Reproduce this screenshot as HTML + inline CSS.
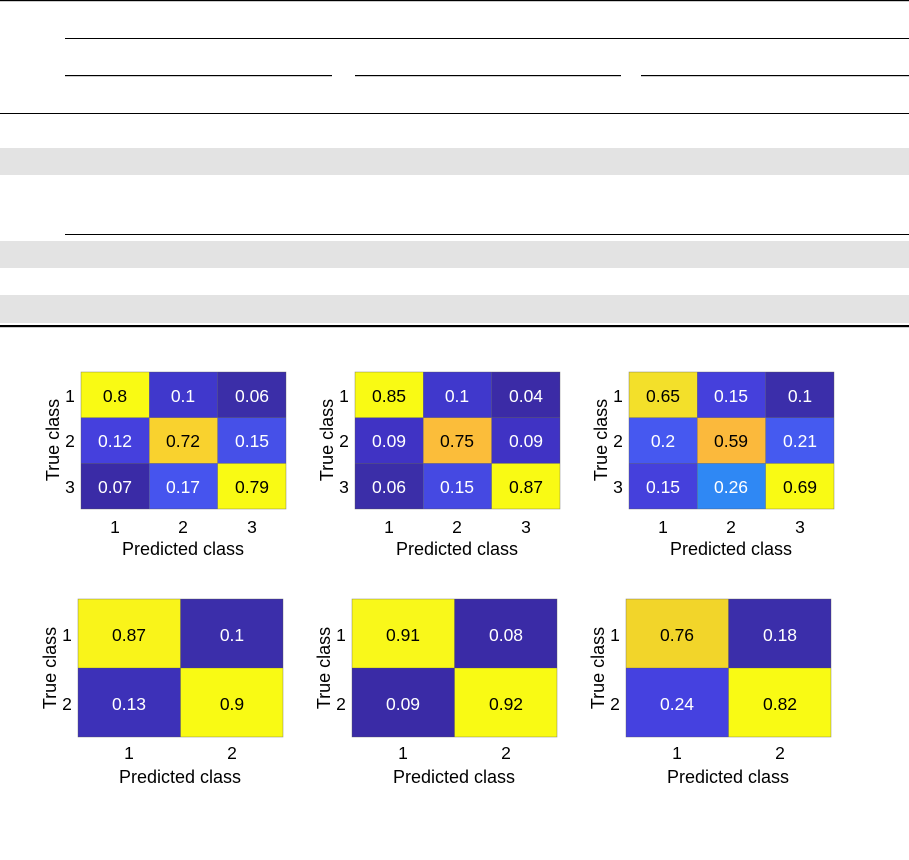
<!DOCTYPE html>
<html><head><meta charset="utf-8"><style>
body{margin:0;background:#fff;}
svg text{font-family:"Liberation Sans",Arial,sans-serif;}
</style></head><body>
<svg width="909" height="855" viewBox="0 0 909 855" xmlns="http://www.w3.org/2000/svg">
<rect width="909" height="855" fill="#fff"/>
<rect x="0" y="0" width="909" height="1.2" fill="#000"/>
<rect x="65" y="38" width="844" height="1" fill="#000"/>
<rect x="65" y="75" width="267" height="1.2" fill="#000"/>
<rect x="355" y="75" width="266" height="1.2" fill="#000"/>
<rect x="641" y="75" width="268" height="1.2" fill="#000"/>
<rect x="0" y="113" width="909" height="1" fill="#000"/>
<rect x="0" y="148" width="909" height="27" fill="#e3e3e3"/>
<rect x="65" y="234" width="844" height="1" fill="#000"/>
<rect x="0" y="241" width="909" height="27" fill="#e3e3e3"/>
<rect x="0" y="295" width="909" height="28" fill="#e3e3e3"/>
<rect x="0" y="325" width="909" height="2.2" fill="#000"/>

<g font-size="17.5" text-anchor="middle">
<g transform="translate(81,372)">
<rect x="0" y="0" width="68.3" height="45.7" fill="#f9fa14"/><rect x="68.3" y="0" width="68.3" height="45.7" fill="#4038cc"/><rect x="136.6" y="0" width="68.4" height="45.7" fill="#3b2ea8"/>
<rect x="0" y="45.7" width="68.3" height="45.7" fill="#4540dd"/><rect x="68.3" y="45.7" width="68.3" height="45.7" fill="#f9d22e"/><rect x="136.6" y="45.7" width="68.4" height="45.7" fill="#4650e8"/>
<rect x="0" y="91.4" width="68.3" height="45.6" fill="#3a2ba6"/><rect x="68.3" y="91.4" width="68.3" height="45.6" fill="#4654ee"/><rect x="136.6" y="91.4" width="68.4" height="45.6" fill="#f9fa14"/>
<g fill="none" stroke="#555" stroke-width="0.6" opacity="0.6"><rect x="0" y="0" width="205" height="137"/><line x1="68.3" y1="0" x2="68.3" y2="137"/><line x1="136.6" y1="0" x2="136.6" y2="137"/><line x1="0" y1="45.7" x2="205" y2="45.7"/><line x1="0" y1="91.4" x2="205" y2="91.4"/></g>
<text x="34" y="30">0.8</text><text x="102" y="30" fill="#fff">0.1</text><text x="171" y="30" fill="#fff">0.06</text>
<text x="34" y="75" fill="#fff">0.12</text><text x="102" y="75">0.72</text><text x="171" y="75" fill="#fff">0.15</text>
<text x="34" y="121" fill="#fff">0.07</text><text x="102" y="121" fill="#fff">0.17</text><text x="171" y="121">0.79</text>
<text x="-11" y="30">1</text><text x="-11" y="75">2</text><text x="-11" y="121">3</text>
<text x="34" y="161">1</text><text x="102" y="161">2</text><text x="171" y="161">3</text>
<text x="102" y="183" font-size="18">Predicted class</text>
<text transform="translate(-22,68) rotate(-90)" font-size="18">True class</text>
</g>
<g transform="translate(355,372)">
<rect x="0" y="0" width="68.3" height="45.7" fill="#f9fa14"/><rect x="68.3" y="0" width="68.3" height="45.7" fill="#4038cc"/><rect x="136.6" y="0" width="68.4" height="45.7" fill="#3b2ba6"/>
<rect x="0" y="45.7" width="68.3" height="45.7" fill="#4033c4"/><rect x="68.3" y="45.7" width="68.3" height="45.7" fill="#fbbd3a"/><rect x="136.6" y="45.7" width="68.4" height="45.7" fill="#4033c4"/>
<rect x="0" y="91.4" width="68.3" height="45.6" fill="#3b2ea8"/><rect x="68.3" y="91.4" width="68.3" height="45.6" fill="#4549e2"/><rect x="136.6" y="91.4" width="68.4" height="45.6" fill="#f9fa14"/>
<g fill="none" stroke="#555" stroke-width="0.6" opacity="0.6"><rect x="0" y="0" width="205" height="137"/><line x1="68.3" y1="0" x2="68.3" y2="137"/><line x1="136.6" y1="0" x2="136.6" y2="137"/><line x1="0" y1="45.7" x2="205" y2="45.7"/><line x1="0" y1="91.4" x2="205" y2="91.4"/></g>
<text x="34" y="30">0.85</text><text x="102" y="30" fill="#fff">0.1</text><text x="171" y="30" fill="#fff">0.04</text>
<text x="34" y="75" fill="#fff">0.09</text><text x="102" y="75">0.75</text><text x="171" y="75" fill="#fff">0.09</text>
<text x="34" y="121" fill="#fff">0.06</text><text x="102" y="121" fill="#fff">0.15</text><text x="171" y="121">0.87</text>
<text x="-11" y="30">1</text><text x="-11" y="75">2</text><text x="-11" y="121">3</text>
<text x="34" y="161">1</text><text x="102" y="161">2</text><text x="171" y="161">3</text>
<text x="102" y="183" font-size="18">Predicted class</text>
<text transform="translate(-22,68) rotate(-90)" font-size="18">True class</text>
</g>
<g transform="translate(629,372)">
<rect x="0" y="0" width="68.3" height="45.7" fill="#f3e02a"/><rect x="68.3" y="0" width="68.3" height="45.7" fill="#4540dc"/><rect x="136.6" y="0" width="68.4" height="45.7" fill="#3b2eaa"/>
<rect x="0" y="45.7" width="68.3" height="45.7" fill="#4658f0"/><rect x="68.3" y="45.7" width="68.3" height="45.7" fill="#fbb93c"/><rect x="136.6" y="45.7" width="68.4" height="45.7" fill="#455af0"/>
<rect x="0" y="91.4" width="68.3" height="45.6" fill="#4540dc"/><rect x="68.3" y="91.4" width="68.3" height="45.6" fill="#2f88f4"/><rect x="136.6" y="91.4" width="68.4" height="45.6" fill="#f9fa14"/>
<g fill="none" stroke="#555" stroke-width="0.6" opacity="0.6"><rect x="0" y="0" width="205" height="137"/><line x1="68.3" y1="0" x2="68.3" y2="137"/><line x1="136.6" y1="0" x2="136.6" y2="137"/><line x1="0" y1="45.7" x2="205" y2="45.7"/><line x1="0" y1="91.4" x2="205" y2="91.4"/></g>
<text x="34" y="30">0.65</text><text x="102" y="30" fill="#fff">0.15</text><text x="171" y="30" fill="#fff">0.1</text>
<text x="34" y="75" fill="#fff">0.2</text><text x="102" y="75">0.59</text><text x="171" y="75" fill="#fff">0.21</text>
<text x="34" y="121" fill="#fff">0.15</text><text x="102" y="121" fill="#fff">0.26</text><text x="171" y="121">0.69</text>
<text x="-11" y="30">1</text><text x="-11" y="75">2</text><text x="-11" y="121">3</text>
<text x="34" y="161">1</text><text x="102" y="161">2</text><text x="171" y="161">3</text>
<text x="102" y="183" font-size="18">Predicted class</text>
<text transform="translate(-22,68) rotate(-90)" font-size="18">True class</text>
</g>
<g transform="translate(78,599)">
<rect x="0" y="0" width="102.5" height="69" fill="#f9f41a"/><rect x="102.5" y="0" width="102.5" height="69" fill="#3b2eaa"/>
<rect x="0" y="69" width="102.5" height="69" fill="#3d31b8"/><rect x="102.5" y="69" width="102.5" height="69" fill="#f9fa14"/>
<g fill="none" stroke="#555" stroke-width="0.6" opacity="0.6"><rect x="0" y="0" width="205" height="138"/><line x1="102.5" y1="0" x2="102.5" y2="138"/><line x1="0" y1="69" x2="205" y2="69"/></g>
<text x="51" y="42">0.87</text><text x="154" y="42" fill="#fff">0.1</text>
<text x="51" y="111" fill="#fff">0.13</text><text x="154" y="111">0.9</text>
<text x="-11" y="42">1</text><text x="-11" y="111">2</text>
<text x="51" y="160">1</text><text x="154" y="160">2</text>
<text x="102" y="184" font-size="18">Predicted class</text>
<text transform="translate(-22,69) rotate(-90)" font-size="18">True class</text>
</g>
<g transform="translate(352,599)">
<rect x="0" y="0" width="102.5" height="69" fill="#f9f81a"/><rect x="102.5" y="0" width="102.5" height="69" fill="#3a2ba6"/>
<rect x="0" y="69" width="102.5" height="69" fill="#3a2ba6"/><rect x="102.5" y="69" width="102.5" height="69" fill="#f9fa14"/>
<g fill="none" stroke="#555" stroke-width="0.6" opacity="0.6"><rect x="0" y="0" width="205" height="138"/><line x1="102.5" y1="0" x2="102.5" y2="138"/><line x1="0" y1="69" x2="205" y2="69"/></g>
<text x="51" y="42">0.91</text><text x="154" y="42" fill="#fff">0.08</text>
<text x="51" y="111" fill="#fff">0.09</text><text x="154" y="111">0.92</text>
<text x="-11" y="42">1</text><text x="-11" y="111">2</text>
<text x="51" y="160">1</text><text x="154" y="160">2</text>
<text x="102" y="184" font-size="18">Predicted class</text>
<text transform="translate(-22,69) rotate(-90)" font-size="18">True class</text>
</g>
<g transform="translate(626,599)">
<rect x="0" y="0" width="102.5" height="69" fill="#f2d52a"/><rect x="102.5" y="0" width="102.5" height="69" fill="#3b2eaa"/>
<rect x="0" y="69" width="102.5" height="69" fill="#4541e0"/><rect x="102.5" y="69" width="102.5" height="69" fill="#f9fa14"/>
<g fill="none" stroke="#555" stroke-width="0.6" opacity="0.6"><rect x="0" y="0" width="205" height="138"/><line x1="102.5" y1="0" x2="102.5" y2="138"/><line x1="0" y1="69" x2="205" y2="69"/></g>
<text x="51" y="42">0.76</text><text x="154" y="42" fill="#fff">0.18</text>
<text x="51" y="111" fill="#fff">0.24</text><text x="154" y="111">0.82</text>
<text x="-11" y="42">1</text><text x="-11" y="111">2</text>
<text x="51" y="160">1</text><text x="154" y="160">2</text>
<text x="102" y="184" font-size="18">Predicted class</text>
<text transform="translate(-22,69) rotate(-90)" font-size="18">True class</text>
</g>
</g>
</svg>
</body></html>
